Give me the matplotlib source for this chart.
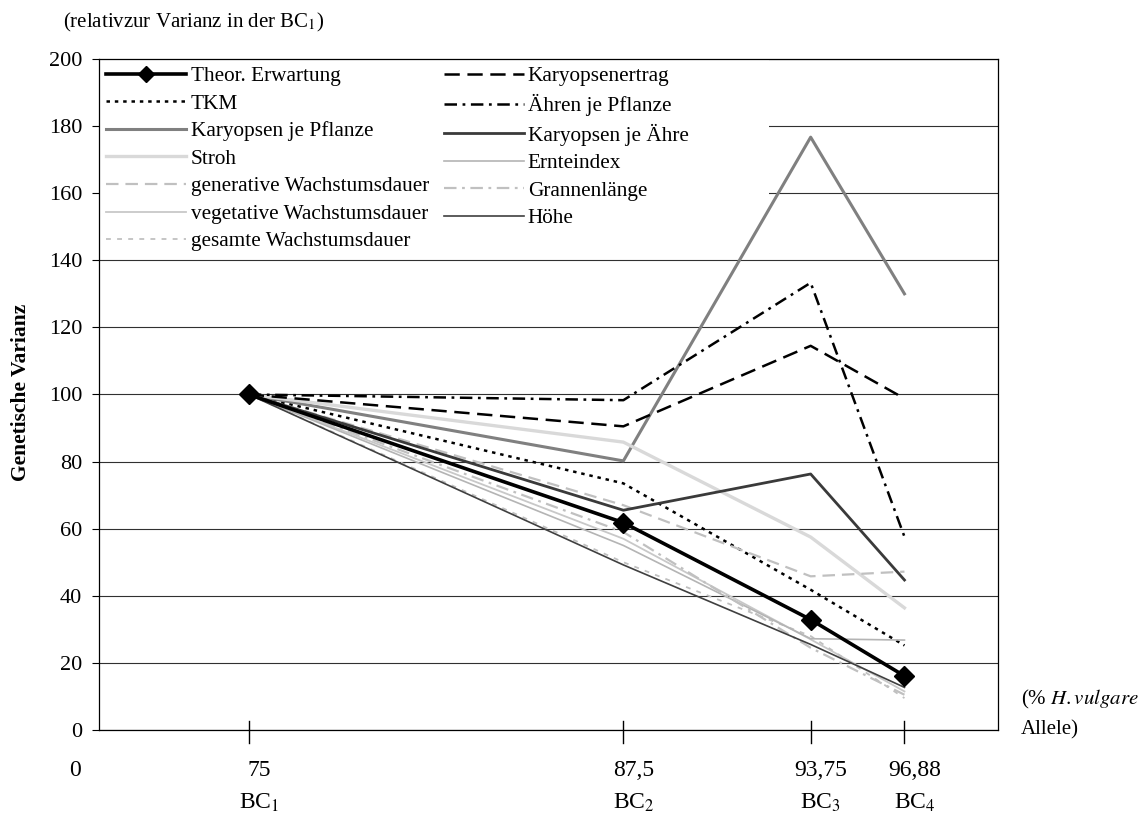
import matplotlib
matplotlib.use("Agg")
import matplotlib.pyplot as plt
import matplotlib.transforms as mtransforms
from matplotlib.patches import Rectangle

plt.rcParams['font.family'] = ['Liberation Serif', 'DejaVu Serif']
plt.rcParams['mathtext.fontset'] = 'stix'
plt.rcParams['lines.scale_dashes'] = False

# Anteil H. vulgare Allele je Rueckkreuzungsgeneration
x_vals = [75, 87.5, 93.75, 96.88]
x_labels = ['75', '87,5', '93,75', '96,88']
bc_labels = ['BC$_1$', 'BC$_2$', 'BC$_3$', 'BC$_4$']

# genetische Varianz relativ zur BC1 (= 100)
theor = [100, 61.8, 32.9, 16.1]
karyopsenertrag = [100, 90.5, 114.5, 98.8]
tkm = [100, 73.5, 41.8, 25.2]
aehren_pflanze = [100, 98.3, 133.3, 57.6]
karyopsen_pflanze = [100, 80.2, 176.7, 130.0]
karyopsen_aehre = [100, 65.5, 76.3, 44.7]
stroh = [100, 85.8, 57.5, 36.4]
ernteindex = [100, 55.0, 27.2, 26.8]
gen_dauer = [100, 67.0, 45.8, 47.2]
grannen = [100, 59.0, 24.5, 10.5]
veg_dauer = [100, 57.0, 27.0, 11.5]
ges_dauer = [100, 50.0, 28.0, 9.5]
hoehe = [100, 49.2, 25.5, 12.7]

fig = plt.figure(figsize=(11.48, 8.18), dpi=100)
ax = fig.add_axes([0.0862, 0.1076, 0.7831, 0.8203])

ax.set_xlim(70, 100)
ax.set_ylim(0, 200)
ax.set_yticks(range(0, 201, 20))
ax.set_xticks([])
ax.tick_params(axis='y', direction='out', length=5, width=0.8, pad=7, labelsize=16)
for s in ax.spines.values():
    s.set_linewidth(0.9)
ax.grid(axis='y', color='#303030', linewidth=0.8)
ax.set_axisbelow(True)

# (Linie, Label, Farbe, Breite, Stil)
col1 = [
    (tkm, 'TKM', 'black', 1.8, (0, (2.5, 3.5))),
    (karyopsen_pflanze, 'Karyopsen je Pflanze', '#808080', 2.2, '-'),
    (stroh, 'Stroh', '#d9d9d9', 2.4, '-'),
    (gen_dauer, 'generative Wachstumsdauer', '#c0c0c0', 1.6, (0, (9, 5))),
    (veg_dauer, 'vegetative Wachstumsdauer', '#c8c8c8', 1.3, '-'),
    (ges_dauer, 'gesamte Wachstumsdauer', '#c0c0c0', 1.3, (0, (3.5, 4.5))),
]
col2 = [
    (karyopsenertrag, 'Karyopsenertrag', 'black', 1.8, (0, (11, 5.5))),
    (aehren_pflanze, 'Ähren je Pflanze', 'black', 1.8, (0, (9, 4, 2, 4))),
    (karyopsen_aehre, 'Karyopsen je Ähre', '#3a3a3a', 2.0, '-'),
    (ernteindex, 'Ernteindex', '#b4b4b4', 1.2, '-'),
    (grannen, 'Grannenlänge', '#c0c0c0', 1.6, (0, (9, 4, 2, 4))),
    (hoehe, 'Höhe', '#404040', 1.2, '-'),
]

handles = {}
for y, lab, c, lw, ls in col1 + col2:
    h, = ax.plot(x_vals, y, color=c, lw=lw, linestyle=ls, zorder=3)
    handles[lab] = h

h_theor, = ax.plot(x_vals, theor, color='black', lw=2.6, marker='D',
                   markersize=10, zorder=5)

order = [h_theor] + [handles[t[1]] for t in col1] + [handles[t[1]] for t in col2]
labels = ['Theor. Erwartung'] + [t[1] for t in col1] + [t[1] for t in col2]

# weisser Hintergrund fuer die Legende
ax.add_patch(Rectangle((0, 0.795), 0.745, 0.205, transform=ax.transAxes,
                       facecolor='white', edgecolor='none', zorder=1.5))
leg = ax.legend(order, labels, ncol=2, loc='upper left', bbox_to_anchor=(0, 1),
                borderaxespad=0, borderpad=0.35, frameon=False, fontsize=15.3,
                handlelength=3.76, handletextpad=0.2, columnspacing=0.7,
                labelspacing=0.36, markerscale=0.8)

# Striche auf der x-Achse
for xv in x_vals:
    ax.plot([xv, xv], [-0.02, 0.014], transform=ax.get_xaxis_transform(),
            color='black', lw=1.0, clip_on=False, zorder=6)

trans = mtransforms.blended_transform_factory(ax.transData, fig.transFigure)
off = mtransforms.offset_copy(trans, fig=fig, x=10, y=0, units='dots')
ax.text(69.2, 0.058, '0', transform=trans, ha='center', va='center', fontsize=17)
for xv, lab, bc in zip(x_vals, x_labels, bc_labels):
    ax.text(xv, 0.058, lab, transform=off, ha='center', va='center', fontsize=17)
    ax.text(xv, 0.018, bc, transform=off, ha='center', va='center', fontsize=17)

fig.text(0.889, 0.145, '(% $\\it{H.vulgare}$', ha='left', va='center', fontsize=15)
fig.text(0.889, 0.108, 'Allele)', ha='left', va='center', fontsize=15)
fig.text(0.055, 0.972, '(relativzur Varianz in der BC$_1$)', ha='left', va='center',
         fontsize=15)
fig.text(0.018, 0.52, 'Genetische Varianz', rotation=90, ha='center', va='center',
         fontsize=15.5, fontweight='bold')

fig.savefig('out.png', dpi=100)
